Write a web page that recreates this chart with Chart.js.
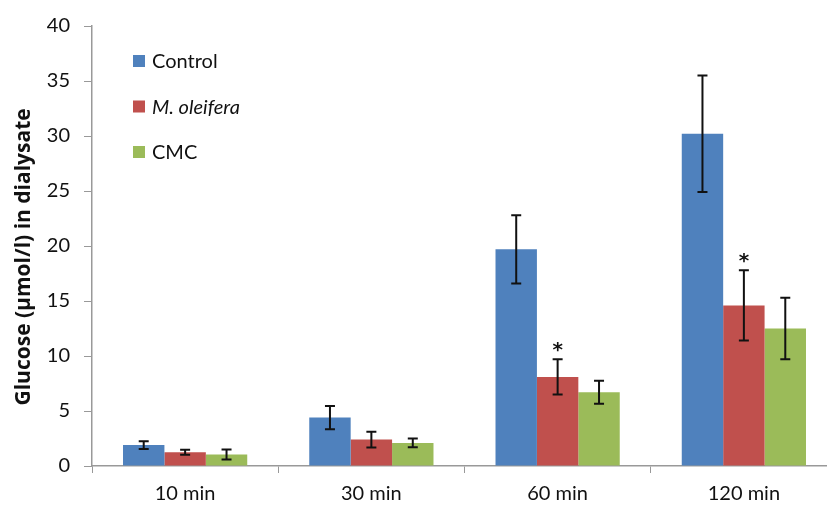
<!DOCTYPE html>
<html>
<head>
<meta charset="utf-8">
<script src="https://cdn.jsdelivr.net/npm/chart.js@4"></script>
<style>
  html, body { margin: 0; padding: 0; background: #fff; overflow: hidden; }
  #wrap { width: 840px; height: 507px; }
</style>
</head>
<body>
<div id="wrap"><canvas id="chart" width="840" height="507"></canvas></div>
<script>
const categories = ['10 min', '30 min', '60 min', '120 min'];
const labels     = ['Control', 'M. oleifera', 'CMC'];
const colors     = ['#4F81BD', '#C0504D', '#9BBB59'];

const control     = [1.9, 4.4, 19.7, 30.2];
const controlErr  = [0.35, 1.05, 3.1, 5.3];
const oleifera    = [1.25, 2.4, 8.1, 14.6];
const oleiferaErr = [0.22, 0.72, 1.6, 3.2];
const cmc         = [1.05, 2.1, 6.7, 12.5];
const cmcErr      = [0.45, 0.4, 1.05, 2.8];
const oleiferaSig = ['', '', '*', '*'];

const FONT = 'Lato, "Open Sans", sans-serif';

// error bars + significance marks
const errorBars = {
  id: 'errorBars',
  afterDatasetsDraw(chart) {
    const { ctx, scales: { y } } = chart;
    ctx.save();
    ctx.strokeStyle = '#111';
    ctx.lineWidth = 2;
    chart.data.datasets.forEach((ds, i) => {
      const meta = chart.getDatasetMeta(i);
      meta.data.forEach((bar, j) => {
        const v = ds.data[j], e = ds.err[j];
        const top = y.getPixelForValue(v + e);
        const bot = y.getPixelForValue(v - e);
        ctx.beginPath();
        ctx.moveTo(bar.x, top); ctx.lineTo(bar.x, bot);
        ctx.moveTo(bar.x - 5, top); ctx.lineTo(bar.x + 5, top);
        ctx.moveTo(bar.x - 5, bot); ctx.lineTo(bar.x + 5, bot);
        ctx.stroke();
        if (ds.sig && ds.sig[j]) {
          ctx.fillStyle = '#111';
          ctx.font = 'bold 20px "DejaVu Sans", sans-serif';
          ctx.textAlign = 'center';
          ctx.textBaseline = 'alphabetic';
          ctx.fillText(ds.sig[j], bar.x, top - 3);
        }
      });
    });
    ctx.restore();
  }
};

// vertical legend inside the plot
const sideLegend = {
  id: 'sideLegend',
  afterDraw(chart) {
    const { ctx } = chart;
    ctx.save();
    chart.data.datasets.forEach((ds, i) => {
      const cy = 61 + i * 45.5;
      ctx.fillStyle = ds.backgroundColor;
      ctx.fillRect(133, cy - 6, 12, 12);
      ctx.fillStyle = '#111';
      ctx.font = (i === 1 ? 'italic ' : '') + '20px ' + FONT;
      ctx.textAlign = 'left';
      ctx.textBaseline = 'middle';
      ctx.fillText(ds.label, 152, cy + 1);
    });
    ctx.restore();
  }
};

new Chart(document.getElementById('chart'), {
  type: 'bar',
  data: {
    labels: categories,
    datasets: [
      { label: labels[0], data: control,  err: controlErr,  backgroundColor: colors[0] },
      { label: labels[1], data: oleifera, err: oleiferaErr, sig: oleiferaSig, backgroundColor: colors[1] },
      { label: labels[2], data: cmc,      err: cmcErr,      backgroundColor: colors[2] }
    ]
  },
  options: {
    responsive: false,
    animation: false,
    categoryPercentage: 0.667,
    barPercentage: 1.0,
    layout: { padding: { top: 22, right: 3, left: 0, bottom: 0 } },
    plugins: { legend: { display: false }, tooltip: { enabled: false } },
    scales: {
      x: {
        grid: { drawOnChartArea: false, drawTicks: true, tickLength: 7, color: '#999', offset: true },
        border: { color: '#999', width: 1.5 },
        ticks: { color: '#111', font: { family: FONT, size: 20 }, padding: 9 },
        afterFit(s) { s.height = 41; }
      },
      y: {
        min: 0, max: 40,
        ticks: { stepSize: 5, color: '#111', font: { family: FONT, size: 20 }, padding: 14 },
        grid: { drawOnChartArea: false, drawTicks: true, tickLength: 8, color: '#999' },
        border: { color: '#999', width: 1.5 },
        // trailing spaces nudge the rotated title down a bit
        title: { display: true, text: 'Glucose (µmol/l) in dialysate\u00a0\u00a0\u00a0\u00a0', color: '#111',
                 font: { family: '"Open Sans", sans-serif', size: 21, weight: 'bold' }, padding: { top: 11, bottom: 4 } },
        afterFit(s) { s.width = 92; }
      }
    }
  },
  plugins: [errorBars, sideLegend]
});
</script>
</body>
</html>
